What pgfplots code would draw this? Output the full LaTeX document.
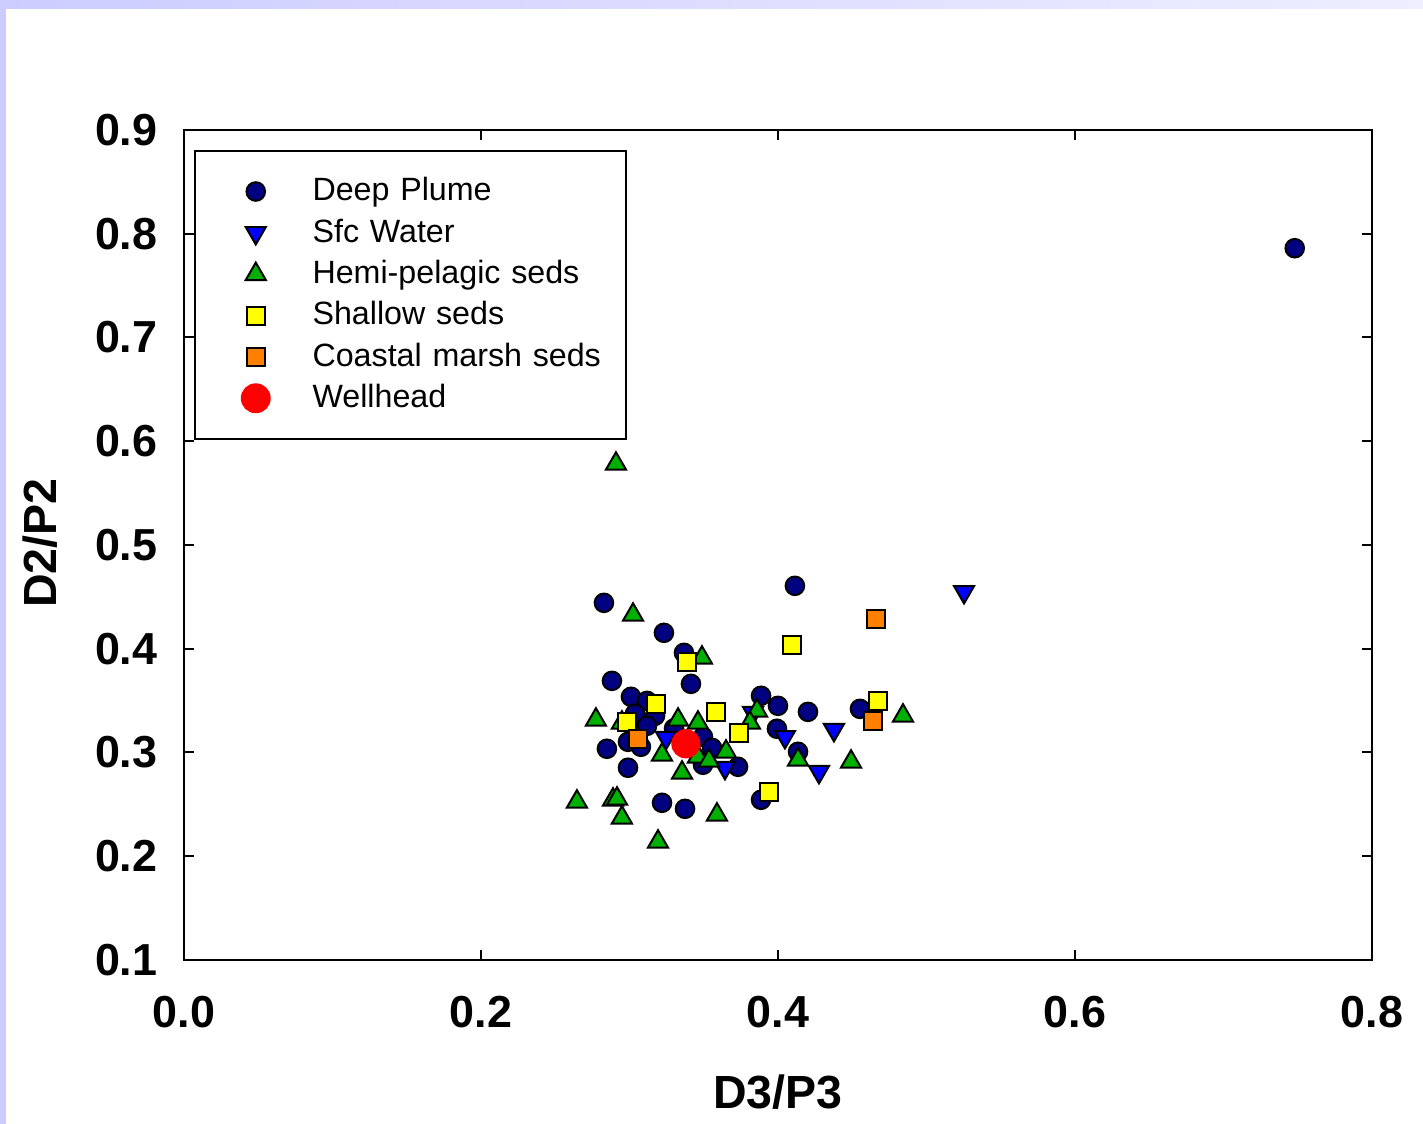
\documentclass[border=0pt]{standalone}
\usepackage{fontspec}
\setmainfont{Liberation Sans}
\usepackage{pgfplots}
\pgfplotsset{compat=1.18}
\definecolor{plume}{HTML}{000080}
\definecolor{sfcblue}{HTML}{0000FF}
\definecolor{hemigreen}{HTML}{00B000}
\definecolor{shallowyel}{HTML}{FFFF00}
\definecolor{marshorange}{HTML}{FF8000}
\definecolor{wellred}{HTML}{FF0000}
\definecolor{lav}{HTML}{CCCCFF}
\definecolor{lavlight}{HTML}{EEEEFF}

\begin{document}
\begin{tikzpicture}
\path[use as bounding box] (-1.947,-1.735) rectangle (13.11,10.155);
\fill[white] (-1.947,-1.735) rectangle (13.11,10.155);
\shade[left color=lav, right color=lavlight] (-1.947,10.06) rectangle (13.11,10.155);
\fill[lav] (-1.947,-1.735) rectangle (-1.884,10.155);
\begin{axis}[
  scale only axis, width=12.57cm, height=8.78cm,
  xmin=0, xmax=0.8, ymin=0.1, ymax=0.9,
  xtick={0,0.2,0.4,0.6,0.8},
  ytick={0.1,0.2,0.3,0.4,0.5,0.6,0.7,0.8,0.9},
  tick align=inside, major tick length=3pt,
  axis line style={black, line width=0.6pt},
  tick style={black, line width=0.6pt},
  /pgf/number format/assume math mode=true,
  /pgf/number format/fixed, /pgf/number format/fixed zerofill,
  /pgf/number format/precision=1,
  ticklabel style={font=\fontsize{13.5}{16}\selectfont\bfseries, inner sep=0pt},
  yticklabel style={xshift=-0.275cm},
  xticklabel style={yshift=-0.38cm},
  xlabel={D3/P3}, ylabel={D2/P2},
  every axis x label/.style={at={(rel axis cs:0.5,-0.160)}, anchor=center,
    font=\fontsize{14}{17}\selectfont\bfseries},
  every axis y label/.style={at={(rel axis cs:-0.1212,0.502)}, anchor=center, rotate=90,
    font=\fontsize{14}{17}\selectfont\bfseries},
  legend style={at={(0.0084,0.976)}, anchor=north west, draw=black, line width=0.6pt,
    fill=white, font=\fontsize{9.7}{12}\selectfont, inner xsep=14.1pt, inner ysep=6pt,
    row sep=0pt, column sep=12.9pt,
    nodes={inner xsep=0pt, inner ysep=0pt, minimum height=12.45pt, text width=80.4pt}},
  legend cell align=left,
  clip=false,
]
\addplot[only marks, mark=*, mark size=2.8pt,
  mark options={fill=plume, draw=black, line width=0.6pt}] coordinates {
 (0.748,0.786)(0.4114,0.4605)(0.2828,0.4441)(0.3232,0.4152)(0.3367,0.3959)
 (0.3414,0.3660)(0.2882,0.3689)(0.3010,0.3535)(0.3118,0.3496)(0.3037,0.3371)
 (0.3172,0.3352)(0.3118,0.3255)(0.2990,0.3101)(0.3077,0.3053)(0.2848,0.3034)
 (0.2990,0.2851)(0.3219,0.2513)(0.3374,0.2455)(0.3886,0.3545)(0.4000,0.3448)
 (0.4202,0.3390)(0.3993,0.3227)(0.4135,0.3005)(0.4552,0.3419)(0.3886,0.2542)
 (0.3731,0.2860)(0.3495,0.3149)(0.3556,0.3043)(0.3495,0.2880)(0.3300,0.3230)};
\addlegendentry{Deep Plume}
\addplot[only marks, mark=triangle*, mark size=3.5pt,
  mark options={rotate=180, fill=sfcblue, draw=black, line width=0.6pt}] coordinates {
 (0.5253,0.4547)(0.4377,0.3217)(0.4276,0.2812)(0.4047,0.3149)(0.3832,0.3381)
 (0.3643,0.2851)(0.3246,0.3140)};
\addlegendentry{Sfc Water}
\addplot[only marks, mark=triangle*, mark size=3.5pt,
  mark options={fill=hemigreen, draw=black, line width=0.6pt}] coordinates {
 (0.2909,0.5781)(0.3024,0.4325)(0.3488,0.3911)(0.2774,0.3313)(0.2949,0.3284)
 (0.3327,0.3313)(0.3461,0.3284)(0.3859,0.3400)(0.3811,0.3284)(0.4842,0.3352)
 (0.4492,0.2908)(0.4135,0.2928)(0.3219,0.2976)(0.3461,0.2957)(0.3535,0.2918)
 (0.3650,0.3005)(0.3354,0.2802)(0.2646,0.2523)(0.2889,0.2542)(0.2916,0.2552)
 (0.2949,0.2369)(0.3192,0.2137)(0.3589,0.2398)};
\addlegendentry{Hemi-pelagic seds}
\addplot[only marks, mark=square*, mark size=2.7pt,
  mark options={fill=shallowyel, draw=black, line width=0.6pt}] coordinates {
 (0.4094,0.4036)(0.3387,0.3872)(0.3178,0.3467)(0.2983,0.3294)(0.3582,0.3390)
 (0.3737,0.3188)(0.3939,0.2619)(0.4673,0.3496)};
\addlegendentry{Shallow seds}
\addplot[only marks, mark=square*, mark size=2.7pt,
  mark options={fill=marshorange, draw=black, line width=0.6pt}] coordinates {
 (0.4660,0.4287)(0.4640,0.3304)(0.3057,0.3130)};
\addlegendentry{\mbox{Coastal marsh seds}}
\addplot[only marks, mark=*, mark size=4.2pt,
  mark options={fill=wellred, draw=wellred}] coordinates {(0.3380,0.3082)};
\addlegendentry{Wellhead}
\end{axis}
\end{tikzpicture}
\end{document}
